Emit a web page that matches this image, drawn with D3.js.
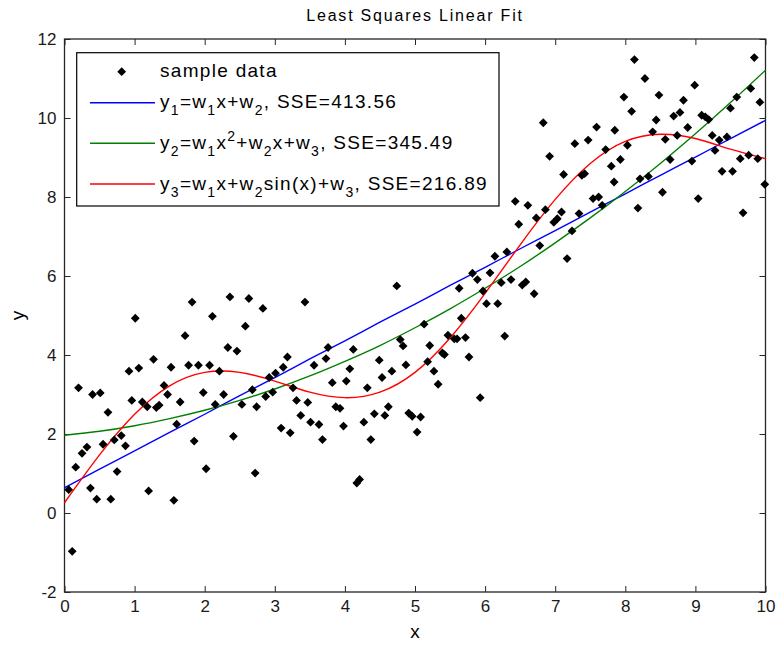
<!DOCTYPE html>
<html>
<head>
<meta charset="utf-8">
<script src="https://cdn.jsdelivr.net/npm/d3@7"></script>
<style>
  html, body { margin: 0; padding: 0; background: #fff; }
  svg { display: block; }
</style>
</head>
<body>
<div id="chart"></div>
<script>
// Sample data
const sampleX = [
  0.11, 0.06, 0.16, 0.25, 0.32, 0.20, 0.37, 0.46, 0.66, 0.40, 0.51, 0.62, 0.55, 0.75, 0.71, 0.81, 0.87, 1.01, 0.92, 1.06,
  0.96, 1.11, 1.18, 1.27, 1.20, 1.31, 1.35, 1.42, 1.47, 1.52, 1.56, 1.60, 1.65, 1.72, 1.82, 1.77, 1.91, 1.85, 1.98, 2.02,
  2.07, 2.11, 2.15, 2.21, 2.27, 2.33, 2.36, 2.41, 2.46, 2.53, 2.58, 2.63, 2.68, 2.72, 2.74,
  2.83, 3.43, 4.74, 2.92, 3.01, 2.97, 2.87, 3.12, 3.18, 3.26, 3.31, 3.47, 3.37, 3.51, 3.63, 3.09, 3.22, 3.68, 3.56, 3.73,
  3.76, 3.82, 3.87, 3.93, 3.98, 4.02, 4.07, 4.12, 4.17, 4.21, 4.27, 4.32, 4.37, 4.42, 4.49, 4.53, 4.57, 4.62, 4.67, 4.79,
  4.83, 4.87, 4.91, 4.96, 5.08, 5.03, 5.13, 5.18, 5.21, 5.27, 5.33, 5.39, 5.42, 5.47, 5.56, 5.60, 5.66,
  5.93, 5.77, 5.72, 5.63, 5.89, 5.97, 6.07, 6.02, 6.18, 6.28, 6.14, 6.31, 6.23, 6.37, 6.53, 6.58, 6.70, 6.48, 6.73, 6.78,
  6.98, 7.03, 7.09, 7.17, 7.24, 7.34, 5.82,
  6.83, 6.92, 7.12, 7.38, 7.42, 7.28, 7.47, 7.59, 7.85, 7.80, 7.84, 7.54, 7.62, 6.43, 6.61, 6.86, 7.67,
  8.13, 8.28, 7.98, 8.09, 8.48, 8.83, 8.99, 9.84, 9.79, 9.92, 9.59, 9.50, 8.78, 8.69, 8.44, 8.89, 9.09, 9.14, 9.19, 8.39,
  8.57, 8.74, 9.24, 9.34, 9.45, 9.28, 9.64, 9.76, 9.89, 9.99, 9.38, 9.53, 9.68, 9.04, 8.95, 8.64, 8.53, 8.21, 8.33, 8.18,
  7.93, 8.03, 7.72
];
const sampleY = [
  -0.97, 0.59, 1.16, 1.51, 1.67, 3.17, 0.63, 0.35, 0.35, 3.00, 3.04, 2.55, 1.74, 1.05, 1.85, 1.96, 1.70, 4.93, 3.59, 3.67,
  2.85, 2.81, 2.69, 3.89, 0.56, 2.67, 2.73, 3.23, 3.00, 3.69, 0.32, 2.25, 2.81, 4.49, 5.34, 3.74, 3.74, 1.82, 3.05, 1.12,
  3.74, 4.98, 2.75, 3.59, 3.00, 4.19, 5.47, 1.94, 4.10, 2.75, 4.73, 5.43, 3.12, 1.01, 2.69,
  5.18, 5.34, 5.75, 3.43, 3.54, 3.06, 2.95, 3.69, 3.95, 3.17, 2.85, 2.80, 2.47, 2.30, 2.24, 2.15, 2.03, 1.86, 3.74, 3.91,
  4.19, 3.30, 2.69, 2.65, 2.20, 3.34, 3.65, 4.14, 0.76, 0.85, 2.30, 3.17, 1.86, 2.51, 3.87, 3.43, 2.47, 2.69, 3.59, 4.39,
  4.23, 3.75, 2.53, 2.45, 2.43, 2.05, 4.78, 3.83, 4.24, 3.59, 3.26, 4.05, 4.01, 4.50, 4.41, 4.41, 4.93,
  2.92, 3.95, 4.44, 5.69, 5.91, 5.62, 6.08, 5.30, 5.30, 4.48, 6.50, 6.61, 5.83, 5.91, 5.77, 5.85, 5.55, 7.31, 7.47, 6.77,
  7.36, 7.45, 7.62, 6.44, 7.14, 7.58, 6.07,
  9.88, 9.03, 8.57, 8.55, 8.59, 9.35, 9.44, 9.77, 9.69, 8.78, 8.38, 7.96, 8.00, 7.89, 7.79, 7.68, 7.79,
  11.48, 11.00, 10.53, 10.17, 10.58, 10.45, 10.83, 11.53, 10.75, 10.40, 10.53, 10.25, 10.14, 10.05, 9.95, 9.76, 10.07, 10.03, 9.96, 9.65,
  9.46, 9.56, 9.56, 9.44, 9.52, 9.18, 8.97, 9.06, 8.97, 8.32, 8.65, 8.65, 7.60, 7.96, 8.91, 8.95, 8.12, 8.46, 8.52, 7.72,
  8.95, 9.31, 9.20
];

// Fitted curves, read at these x positions
const fitX = [0, 0.5, 1, 1.5, 2, 2.5, 3, 3.5, 4, 4.5, 5, 5.5, 6, 6.5, 7, 7.5, 8, 8.5, 9, 9.5, 10];
const fitLinear = [0.64, 1.11, 1.57, 2.04, 2.50, 2.97, 3.43, 3.90, 4.36, 4.83, 5.29, 5.76, 6.22, 6.69, 7.15, 7.62, 8.08, 8.55, 9.01, 9.48, 9.94];
const fitQuadratic = [1.97, 2.07, 2.21, 2.39, 2.60, 2.85, 3.14, 3.47, 3.84, 4.24, 4.69, 5.17, 5.69, 6.24, 6.84, 7.47, 8.14, 8.85, 9.60, 10.39, 11.21];
const fitSine = [0.26, 1.47, 2.50, 3.22, 3.56, 3.56, 3.34, 3.06, 2.92, 3.06, 3.56, 4.43, 5.56, 6.79, 7.94, 8.85, 9.41, 9.59, 9.48, 9.21, 8.97];

const xTicks = [0, 1, 2, 3, 4, 5, 6, 7, 8, 9, 10];
const yTicks = [-2, 0, 2, 4, 6, 8, 10, 12];

const titleText = 'Least Squares Linear Fit';
const xLabel = 'x';
const yLabel = 'y';

// legend labels as [text, 'sub' | 'sup' | undefined] runs
const legendLabels = [
  [['sample data']],
  [['y'], ['1', 'sub'], ['=w'], ['1', 'sub'], ['x+w'], ['2', 'sub'], [', SSE=413.56']],
  [['y'], ['2', 'sub'], ['=w'], ['1', 'sub'], ['x'], ['2', 'sup'], ['+w'], ['2', 'sub'], ['x+w'], ['3', 'sub'], [', SSE=345.49']],
  [['y'], ['3', 'sub'], ['=w'], ['1', 'sub'], ['x+w'], ['2', 'sub'], ['sin(x)+w'], ['3', 'sub'], [', SSE=216.89']]
];

const width = 777, height = 645;
const box = { left: 64.5, right: 765.5, top: 39, bottom: 592 };
const fontFamily = '"Liberation Sans", Arial, Helvetica, sans-serif';

const svg = d3.select('#chart').append('svg')
  .attr('width', width)
  .attr('height', height)
  .style('background', '#fff');

const x = d3.scaleLinear().domain([0, 10]).range([box.left, box.right]);
const y = d3.scaleLinear().domain([-2, 12]).range([box.bottom, box.top]);

// Axes, ticks pointing inward on all four sides
const tickLen = 6;
const plainNum = d => String(d); // plain hyphen minus, like the reference
const styleAxis = g => {
  g.select('.domain').remove();
  g.selectAll('line').attr('stroke', '#262626').attr('stroke-width', 1);
  g.selectAll('text')
    .attr('fill', '#1a1a1a')
    .style('font-family', fontFamily)
    .style('font-size', '17px');
};

svg.append('g')
  .attr('transform', `translate(0,${box.bottom})`)
  .call(d3.axisBottom(x).tickValues(xTicks).tickSize(-tickLen).tickPadding(8).tickFormat(plainNum))
  .call(styleAxis);
svg.append('g')
  .attr('transform', `translate(0,${box.top})`)
  .call(d3.axisTop(x).tickValues(xTicks).tickSize(-tickLen).tickFormat(''))
  .call(styleAxis);
svg.append('g')
  .attr('transform', `translate(${box.left},0)`)
  .call(d3.axisLeft(y).tickValues(yTicks).tickSize(-tickLen).tickPadding(8).tickFormat(plainNum))
  .call(styleAxis);
svg.append('g')
  .attr('transform', `translate(${box.right},0)`)
  .call(d3.axisRight(y).tickValues(yTicks).tickSize(-tickLen).tickFormat(''))
  .call(styleAxis);

svg.append('rect')
  .attr('x', box.left).attr('y', box.top)
  .attr('width', box.right - box.left).attr('height', box.bottom - box.top)
  .attr('fill', 'none').attr('stroke', '#262626').attr('stroke-width', 1.3);

// Fit curves
const series = [
  { values: fitLinear, color: '#0000ff' },
  { values: fitQuadratic, color: '#008000' },
  { values: fitSine, color: '#ff0000' }
];
const lineGen = d3.line()
  .x((d, i) => x(fitX[i]))
  .y(d => y(d))
  .curve(d3.curveNatural);

svg.append('g').selectAll('path')
  .data(series)
  .join('path')
  .attr('d', d => lineGen(d.values))
  .attr('fill', 'none')
  .attr('stroke', d => d.color)
  .attr('stroke-width', 1.4);

// Diamond markers
const diamond = r => `M0,${-r}L${r},0L0,${r}L${-r},0Z`;
svg.append('g').selectAll('path')
  .data(sampleX.map((v, i) => [v, sampleY[i]]))
  .join('path')
  .attr('transform', d => `translate(${x(d[0])},${y(d[1])})`)
  .attr('d', diamond(4.4))
  .attr('fill', '#000');

// Title and axis labels
svg.append('text')
  .attr('x', (box.left + box.right) / 2).attr('y', 21)
  .attr('text-anchor', 'middle')
  .style('font-family', fontFamily).style('font-size', '16px')
  .style('letter-spacing', '1.8px')
  .text(titleText);

svg.append('text')
  .attr('x', (box.left + box.right) / 2).attr('y', 638)
  .attr('text-anchor', 'middle')
  .style('font-family', fontFamily).style('font-size', '19px')
  .text(xLabel);

svg.append('text')
  .attr('transform', `translate(24,${(box.top + box.bottom) / 2}) rotate(-90)`)
  .attr('text-anchor', 'middle')
  .style('font-family', fontFamily).style('font-size', '19px')
  .text(yLabel);

// Legend
const legend = { left: 76.7, top: 52.7, right: 499, bottom: 206 };
const rowY = [71.7, 102.7, 143.3, 184];
const legendFont = 19, subFont = 14;

const gLegend = svg.append('g');
gLegend.append('rect')
  .attr('x', legend.left).attr('y', legend.top)
  .attr('width', legend.right - legend.left).attr('height', legend.bottom - legend.top)
  .attr('fill', '#fff').attr('stroke', '#000').attr('stroke-width', 1.2);

gLegend.append('path')
  .attr('transform', `translate(121.7,${rowY[0]})`)
  .attr('d', diamond(4.4))
  .attr('fill', '#000');

series.forEach((s, i) => {
  gLegend.append('line')
    .attr('x1', 90).attr('x2', 155)
    .attr('y1', rowY[i + 1]).attr('y2', rowY[i + 1])
    .attr('stroke', s.color).attr('stroke-width', 1.4);
});

legendLabels.forEach((runs, i) => {
  const t = gLegend.append('text')
    .attr('x', 160).attr('y', rowY[i] + 5.5)
    .style('font-family', fontFamily).style('font-size', legendFont + 'px')
    .style('letter-spacing', '1.3px')
    .attr('fill', '#000');
  let shift = 0;
  runs.forEach(([str, kind]) => {
    const target = kind === 'sub' ? 7 : kind === 'sup' ? -8 : 0;
    t.append('tspan')
      .attr('dy', target - shift)
      .style('font-size', (kind ? subFont : legendFont) + 'px')
      .text(str);
    shift = target;
  });
});
</script>
</body>
</html>
